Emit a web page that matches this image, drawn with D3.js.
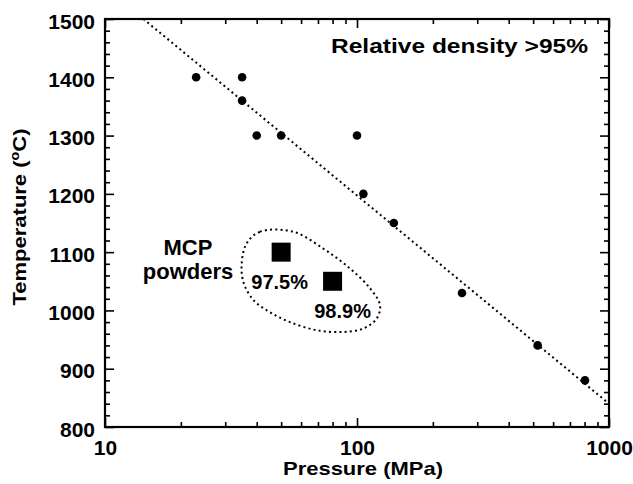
<!DOCTYPE html>
<html><head><meta charset="utf-8">
<script src="https://cdn.jsdelivr.net/npm/d3@7"></script>
<style>
body{margin:0;background:#fff}
svg text{font-family:"Liberation Sans",Arial,sans-serif;font-weight:bold;fill:#000}
</style>
</head><body><svg id="c" width="633" height="484"></svg>
<script>
// ---- data ----
const pressure    = [23, 35, 35, 40, 50, 100, 106, 140, 261, 521, 803];
const temperature = [1400, 1400, 1360, 1300, 1300, 1300, 1200, 1150, 1030, 940, 880];
const mcpPressure    = [50, 80];
const mcpTemperature = [1100, 1050];
const mcpLabels      = ["97.5%", "98.9%"];
const fitPressure    = [14.2, 1000];
const fitTemperature = [1500, 840];
const blobPressure    = [36.5, 41.2, 55.9, 73.5, 93.8, 112.6, 123.4, 119.7, 106, 88.2, 69.2, 54.2, 45.1, 38.8, 35.4, 34.9];
const blobTemperature = [1115, 1135, 1135, 1106, 1072, 1038, 1009, 986, 969, 963, 966, 980, 997, 1018, 1049, 1083];
const xMajorTicks = [10, 100, 1000];
const xMinorTicks = [20,30,40,50,60,70,80,90,200,300,400,500,600,700,800,900];
const yMajorTicks = [800, 900, 1000, 1100, 1200, 1300, 1400, 1500];
const yMinorTicks = d3.range(820, 1500, 20).filter(v => v % 100 !== 0);

// ---- layout ----
const L = 105, R = 609, T = 19, B = 427;
const svg = d3.select("#c");
const x = d3.scaleLog().domain([10, 1000]).range([L, R]);
const y = d3.scaleLinear().domain([800, 1500]).range([B, T]);

function styleAxis(g){
  g.select(".domain").remove();
  g.selectAll(".tick line").attr("stroke","#000").attr("stroke-width",1.6);
}
// bottom
svg.append("g").attr("transform",`translate(0,${B})`)
  .call(d3.axisBottom(x).tickValues(xMajorTicks).tickSizeInner(-9).tickSizeOuter(0).tickPadding(13).tickFormat(d3.format("d")))
  .call(styleAxis)
  .call(g=>g.selectAll("text").attr("font-size",21).attr("dy","0.71em"));
svg.append("g").attr("transform",`translate(0,${B})`)
  .call(d3.axisBottom(x).tickValues(xMinorTicks).tickSizeInner(-5).tickSizeOuter(0).tickFormat(""))
  .call(styleAxis);
// top
svg.append("g").attr("transform",`translate(0,${T})`)
  .call(d3.axisTop(x).tickValues(xMajorTicks).tickSizeInner(-9).tickSizeOuter(0).tickFormat(""))
  .call(styleAxis);
svg.append("g").attr("transform",`translate(0,${T})`)
  .call(d3.axisTop(x).tickValues(xMinorTicks).tickSizeInner(-5).tickSizeOuter(0).tickFormat(""))
  .call(styleAxis);
// left
svg.append("g").attr("transform",`translate(${L},0)`)
  .call(d3.axisLeft(y).tickValues(yMajorTicks).tickSizeInner(-9).tickSizeOuter(0).tickPadding(10).tickFormat(d3.format("d")))
  .call(styleAxis)
  .call(g=>g.selectAll("text").attr("font-size",21).attr("dy","0.43em"));
svg.append("g").attr("transform",`translate(${L},0)`)
  .call(d3.axisLeft(y).tickValues(yMinorTicks).tickSizeInner(-5).tickSizeOuter(0).tickFormat(""))
  .call(styleAxis);
// right
svg.append("g").attr("transform",`translate(${R},0)`)
  .call(d3.axisRight(y).tickValues(yMajorTicks).tickSizeInner(-9).tickSizeOuter(0).tickFormat(""))
  .call(styleAxis);
svg.append("g").attr("transform",`translate(${R},0)`)
  .call(d3.axisRight(y).tickValues(yMinorTicks).tickSizeInner(-5).tickSizeOuter(0).tickFormat(""))
  .call(styleAxis);

// frame
svg.append("rect").attr("x",L).attr("y",T).attr("width",R-L).attr("height",B-T)
  .attr("fill","none").attr("stroke","#000").attr("stroke-width",2.2);

// fit line
const fitData = fitPressure.map((p,i)=>[p, fitTemperature[i]]);
svg.append("path").datum(fitData)
  .attr("d", d3.line().x(d=>x(d[0])).y(d=>y(d[1])))
  .attr("fill","none").attr("stroke","#000").attr("stroke-width",2)
  .attr("stroke-dasharray","2,3.2");

// blob
const blobData = blobPressure.map((p,i)=>[p, blobTemperature[i]]);
svg.append("path").datum(blobData)
  .attr("d", d3.line().x(d=>x(d[0])).y(d=>y(d[1])).curve(d3.curveCatmullRomClosed.alpha(0.5)))
  .attr("fill","none").attr("stroke","#000").attr("stroke-width",2)
  .attr("stroke-dasharray","2,3.2");

// points
svg.append("g").selectAll("circle").data(pressure.map((p,i)=>[p,temperature[i]])).join("circle")
  .attr("cx",d=>x(d[0])).attr("cy",d=>y(d[1])).attr("r",4.3).attr("fill","#000");

// squares
const sq = 19;
svg.append("g").selectAll("rect").data(mcpPressure.map((p,i)=>[p,mcpTemperature[i]])).join("rect")
  .attr("x",d=>x(d[0])-sq/2).attr("y",d=>y(d[1])-sq/2).attr("width",sq).attr("height",sq).attr("fill","#000");

// square labels
const labOff = [[-1.5, 37], [10, 36.5]];
svg.append("g").selectAll("text").data(mcpPressure.map((p,i)=>[p,mcpTemperature[i],mcpLabels[i],i])).join("text")
  .attr("x",d=>x(d[0])+labOff[d[3]][0]).attr("y",d=>y(d[1])+labOff[d[3]][1])
  .attr("text-anchor","middle").attr("font-size",20).text(d=>d[2]);

// annotations
svg.append("text").attr("x",331).attr("y",53).attr("font-size",21)
  .attr("textLength",257).attr("lengthAdjust","spacingAndGlyphs").text("Relative density >95%");
svg.append("text").attr("x",188).attr("y",255).attr("text-anchor","middle").attr("font-size",22).text("MCP");
svg.append("text").attr("x",188).attr("y",279).attr("text-anchor","middle").attr("font-size",22).text("powders");

// axis titles
svg.append("text").attr("x",363).attr("y",475).attr("text-anchor","middle").attr("font-size",19)
  .attr("textLength",160).attr("lengthAdjust","spacingAndGlyphs").text("Pressure (MPa)");
const yt = svg.append("text").attr("transform","translate(26,217) rotate(-90)")
  .attr("text-anchor","middle").attr("font-size",18.5)
  .attr("textLength",177).attr("lengthAdjust","spacingAndGlyphs");
yt.append("tspan").text("Temperature (");
yt.append("tspan").attr("font-size",12).attr("dy",-7).text("o");
yt.append("tspan").attr("dy",7).text("C)");
</script>
</body></html>
